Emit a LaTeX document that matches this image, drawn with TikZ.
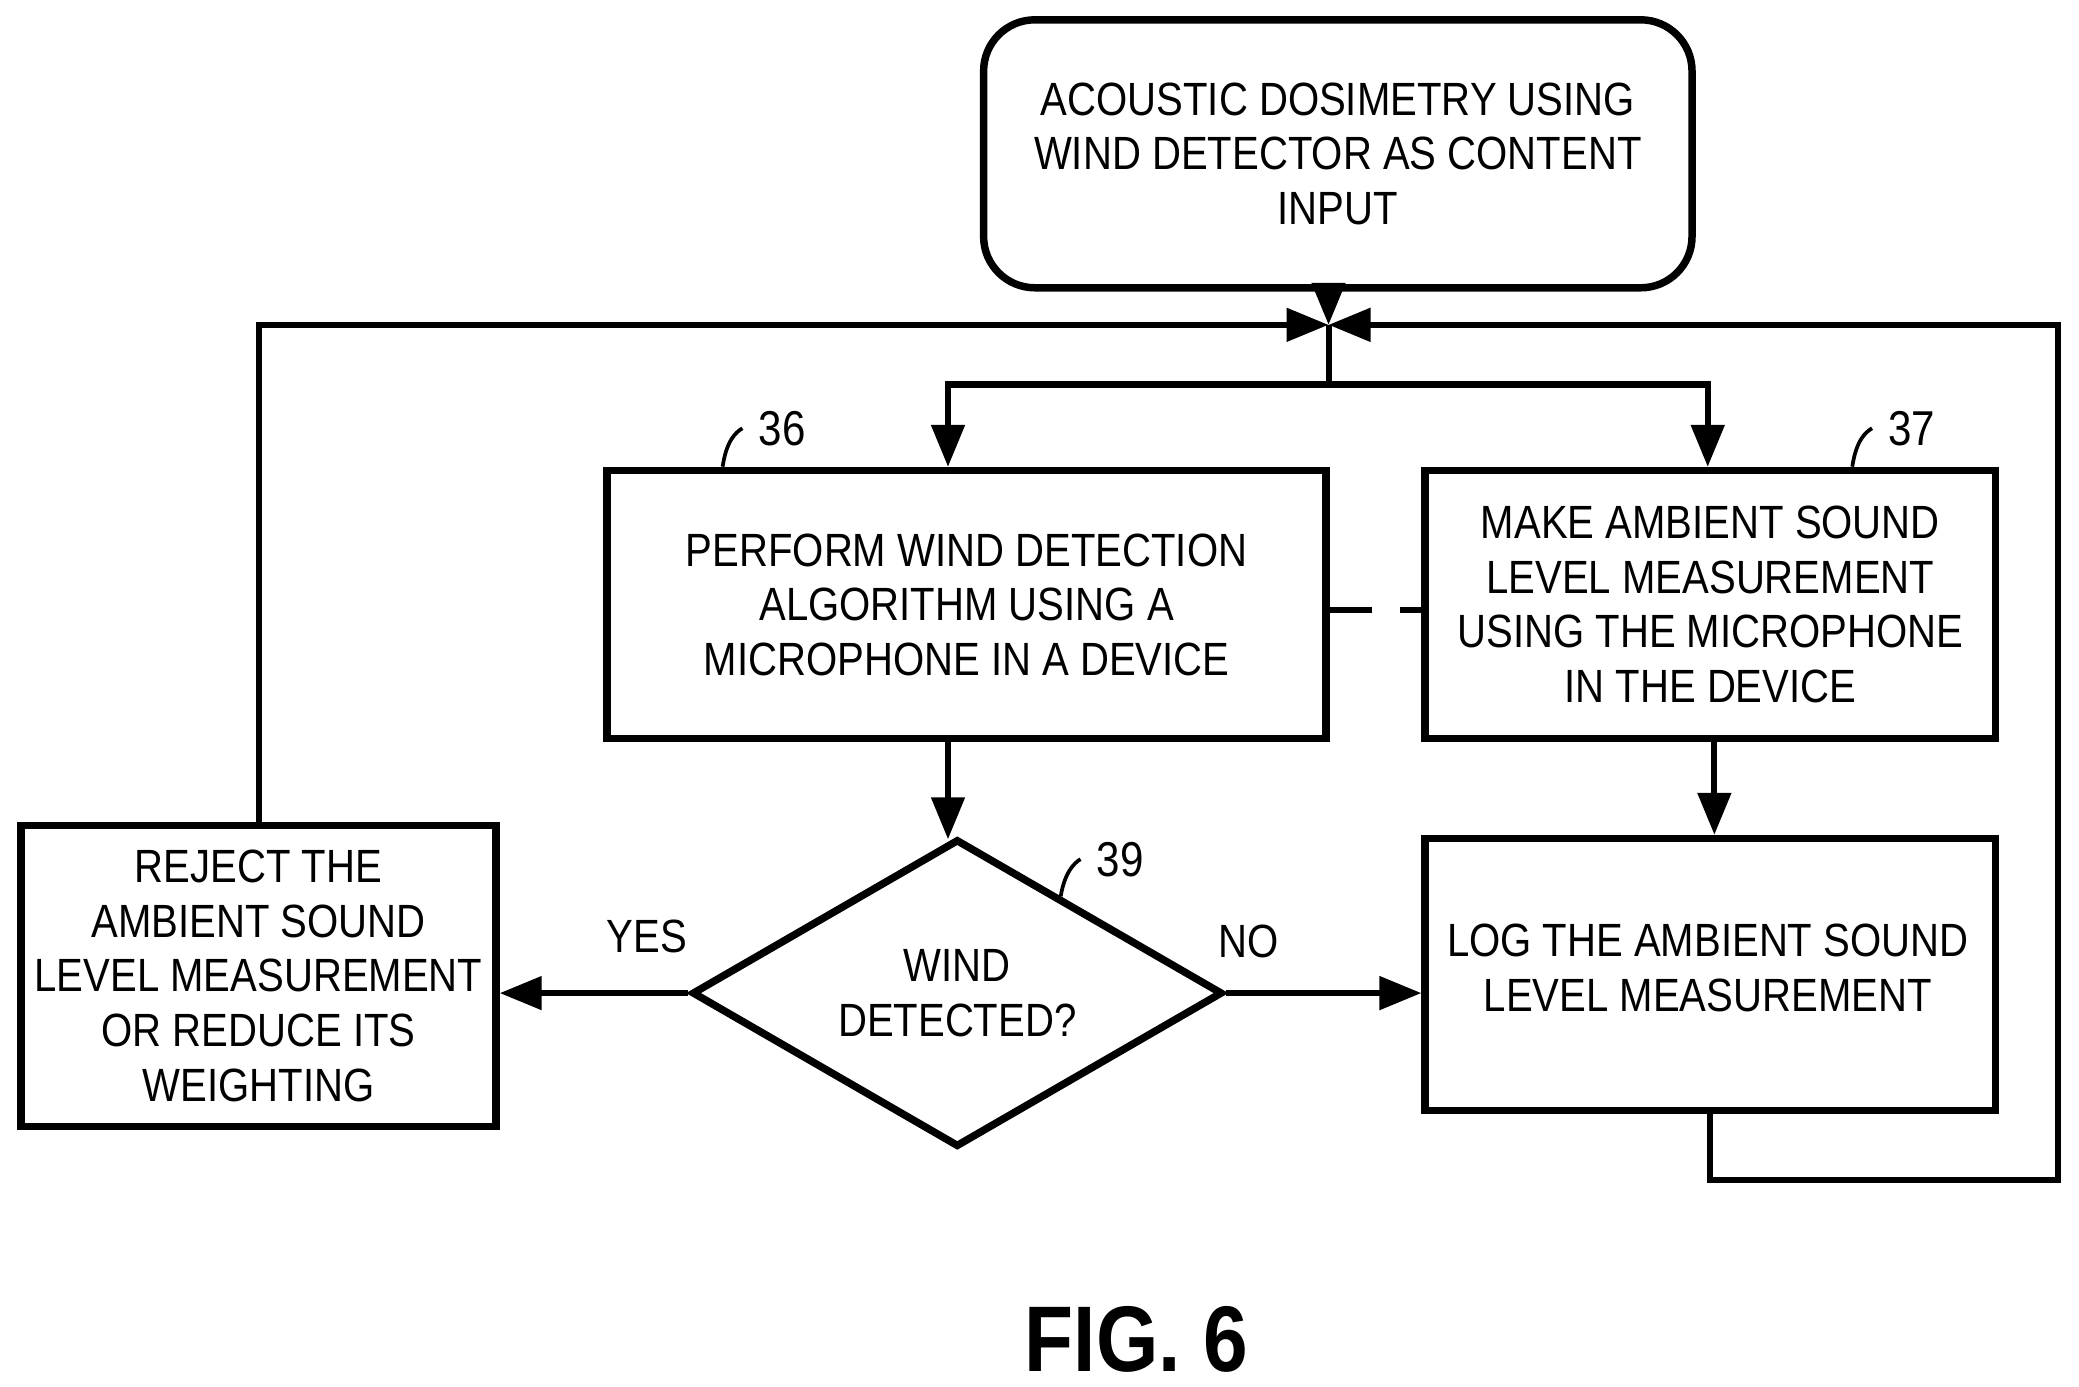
\documentclass[tikz,border=0pt]{standalone}
\usepackage{fontspec}
\setmainfont{Liberation Sans}[FakeStretch = 0.86]
\usetikzlibrary{shapes.geometric,arrows.meta}

\tikzset{
	box/.style = {draw, line width = 1.6pt, align = center, inner sep = 0pt},
	flow/.style = {line width = 1.3pt, -{Triangle[length = 9pt, width = 7pt]}},
	line/.style = {line width = 1.3pt},
	ref/.style = {font = \fontsize{10.5}{13}\selectfont}
}

\begin{document}
\begin{tikzpicture}[x = 0.01cm, y = -0.01cm, font = \fontsize{10}{11.7}\selectfont]
	\useasboundingbox (0,0) rectangle (1568,1046);
	% blocks
	\node[box, rounded corners = 11pt, minimum width = 5.34cm, minimum height = 2.02cm] (start) at (1009,116)
		{ACOUSTIC DOSIMETRY USING\\WIND DETECTOR AS CONTENT\\INPUT};
	\node[box, minimum width = 5.42cm, minimum height = 2.02cm] (wind) at (729,456)
		{PERFORM WIND DETECTION\\ALGORITHM USING A\\MICROPHONE IN A DEVICE};
	\node[box, minimum width = 4.30cm, minimum height = 2.02cm] (meas) at (1290,456)
		{MAKE AMBIENT SOUND\\LEVEL MEASUREMENT\\USING THE MICROPHONE\\IN THE DEVICE};
	\node[box, diamond, aspect = 1.72, minimum width = 4.0cm, minimum height = 2.32cm] (det) at (722,749)
		{WIND\\DETECTED?};
	\node[box, minimum width = 3.58cm, minimum height = 2.27cm] (rej) at (195,736)
		{REJECT THE\\AMBIENT SOUND\\LEVEL MEASUREMENT\\OR REDUCE ITS\\WEIGHTING};
	\node[box, minimum width = 4.30cm, minimum height = 2.05cm] (log) at (1290,735) {};
	\node[align = center] (logtxt) at (1288,730) {LOG THE AMBIENT SOUND\\LEVEL MEASUREMENT};
	\coordinate (join) at (1002,245);
	\coordinate (split) at (1002,290);
	% connectors
	\draw[flow] (start.south -| join) -- (join);
	\draw[flow] (rej.north) |- (join);
	\draw[flow] (log.south) |- (1552,890) |- (join);
	\draw[line] (join) -- (split);
	\draw[flow] (split) -| (wind.north -| 715,0);
	\draw[flow] (split) -| (meas.north -| 1288,0);
	\draw[line, dash pattern = on 9pt off 6pt] (wind.east |- 0,460) -- (meas.west |- 0,460);
	\draw[flow] (wind.south -| 715,0) -- (715,633);
	\draw[flow] (meas.south -| 1293,0) -- (log.north -| 1293,0);
	\draw[flow] (det.west) -- (rej.east |- det.west);
	\draw[flow] (det.east) -- (log.west |- det.east);
	\node (yes) at (488,706) {YES};
	\node (no) at (942,710) {NO};
	% reference numerals
	\node[ref] (n36) at (590,323) {36};
	\draw[line, line width = 0.8pt] (545,352) .. controls (548,332) and (555,326) .. (n36.west);
	\node[ref] (n37) at (1442,323) {37};
	\draw[line, line width = 0.8pt] (1397,352) .. controls (1400,332) and (1407,326) .. (n37.west);
	\node[ref] (n39) at (845,648) {39};
	\draw[line, line width = 0.8pt] (800,676) .. controls (803,658) and (810,651) .. (n39.west);
	\node[font = \fontsize{20}{24}\selectfont\bfseries] (fig) at (857,1010) {FIG. 6};
\end{tikzpicture}
\end{document}
